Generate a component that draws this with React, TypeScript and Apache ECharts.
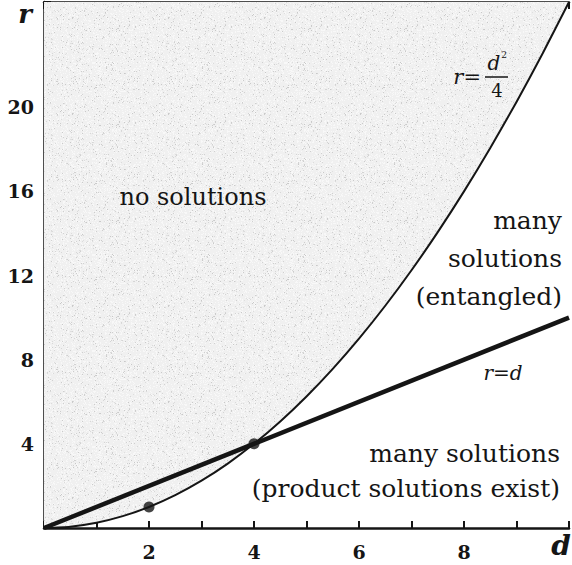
import React, { useEffect, useRef } from "react";
import * as echarts from "echarts";

// r = d^2 / 4 boundary (d, r)
const parabolaD = [0, 0.5, 1, 1.5, 2, 2.5, 3, 3.5, 4, 4.5, 5, 5.5, 6, 6.5, 7, 7.5, 8, 8.5, 9, 9.5, 10];
const parabolaR = [0, 0.0625, 0.25, 0.5625, 1, 1.5625, 2.25, 3.0625, 4, 5.0625, 6.25, 7.5625, 9, 10.5625, 12.25, 14.0625, 16, 18.0625, 20.25, 22.5625, 25];
// r = d line
const lineD = [0, 10];
const lineR = [0, 10];
// marked points
const dotD = [2, 4];
const dotR = [1, 4];
// tick labels
const xTickLabels = ["2", "4", "6", "8"];
const yTickLabels = ["4", "8", "12", "16", "20"];

const SERIF = "'DejaVu Serif', 'Liberation Serif', serif";
const INK = "#151515";

// Speckled light-grey tile for the shaded region (deterministic hash noise).
function makeGrainTile(): HTMLCanvasElement {
  const size = 96;
  const c = document.createElement("canvas");
  c.width = size;
  c.height = size;
  const ctx = c.getContext("2d")!;
  ctx.fillStyle = "#efefef";
  ctx.fillRect(0, 0, size, size);
  const img = ctx.getImageData(0, 0, size, size);
  for (let y = 0; y < size; y++) {
    for (let x = 0; x < size; x++) {
      let h = (x * 374761393 + y * 668265263) | 0;
      h = Math.imul(h ^ (h >>> 13), 1274126177);
      h ^= h >>> 16;
      const u = (h >>> 0) / 4294967295;
      let v = 240;
      if (u < 0.06) v = 200 + Math.floor(u * 400);
      else if (u > 0.8) v = 248;
      const i = (y * size + x) * 4;
      img.data[i] = v;
      img.data[i + 1] = v;
      img.data[i + 2] = v;
      img.data[i + 3] = 255;
    }
  }
  ctx.putImageData(img, 0, 0);
  return c;
}

export default function App() {
  const ref = useRef<HTMLDivElement>(null);

  useEffect(() => {
    if (!ref.current) return;
    const chart = echarts.init(ref.current, null, { renderer: "svg" });

    const xAxisBase = {
      type: "value" as const,
      min: 0,
      max: 10,
      interval: 1,
      splitLine: { show: false },
      axisLine: { show: true, onZero: false, lineStyle: { color: INK, width: 2.5 } },
      axisTick: { show: true, inside: true, length: 7, lineStyle: { color: INK, width: 2 } },
    };

    const textZ = { z: 100 };
    const regionFont = `25px ${SERIF}`;

    chart.setOption({
      animation: false,
      backgroundColor: "#ffffff",
      grid: { left: 44, right: -2, top: 2, bottom: 37 },
      xAxis: [
        {
          ...xAxisBase,
          position: "bottom",
          axisLabel: {
            margin: 14,
            fontFamily: SERIF,
            fontSize: 19,
            fontWeight: "bold",
            color: INK,
            formatter: (v: number) => (xTickLabels.includes(String(v)) ? String(v) : ""),
          },
        },
        {
          ...xAxisBase,
          position: "top",
          axisLabel: { show: false },
        },
      ],
      yAxis: {
        type: "value",
        min: 0,
        max: 25,
        interval: 4,
        splitLine: { show: false },
        axisLine: { show: true, onZero: false, lineStyle: { color: INK, width: 2.5 } },
        axisTick: { show: true, inside: true, length: 7, lineStyle: { color: INK, width: 2 } },
        axisLabel: {
          margin: 10,
          fontFamily: SERIF,
          fontSize: 19,
          fontWeight: "bold",
          color: INK,
          formatter: (v: number) => (yTickLabels.includes(String(v)) ? String(v) : ""),
        },
      },
      series: [
        {
          type: "line",
          xAxisIndex: 0,
          data: parabolaD.map((d, i) => [d, parabolaR[i]]),
          smooth: 0.2,
          symbol: "none",
          lineStyle: { color: INK, width: 2 },
          areaStyle: { origin: "end", color: { image: makeGrainTile(), repeat: "repeat" }, opacity: 1 },
          z: 2,
        },
        {
          type: "line",
          xAxisIndex: 0,
          data: lineD.map((d, i) => [d, lineR[i]]),
          symbol: "none",
          lineStyle: { color: INK, width: 4.5 },
          z: 3,
        },
        {
          type: "scatter",
          xAxisIndex: 0,
          data: dotD.map((d, i) => [d, dotR[i]]),
          symbolSize: 11,
          itemStyle: { color: INK },
          z: 4,
        },
      ],
      graphic: [
        // axis names
        { type: "text", ...textZ, x: 25, y: 1, style: { text: "r", font: `italic bold 26px ${SERIF}`, fill: INK, align: "center", verticalAlign: "top" } },
        { type: "text", ...textZ, x: 561, y: 545, style: { text: "d", font: `italic bold 28px ${SERIF}`, fill: INK, align: "center", verticalAlign: "middle" } },
        // region labels
        { type: "text", ...textZ, x: 193, y: 197, style: { text: "no solutions", font: `24px ${SERIF}`, fill: INK, align: "center", verticalAlign: "middle" } },
        { type: "text", ...textZ, x: 562, y: 220, style: { text: "many", font: regionFont, fill: INK, align: "right", verticalAlign: "middle" } },
        { type: "text", ...textZ, x: 562, y: 258, style: { text: "solutions", font: regionFont, fill: INK, align: "right", verticalAlign: "middle" } },
        { type: "text", ...textZ, x: 562, y: 296, style: { text: "(entangled)", font: regionFont, fill: INK, align: "right", verticalAlign: "middle" } },
        { type: "text", ...textZ, x: 560, y: 453, style: { text: "many solutions", font: regionFont, fill: INK, align: "right", verticalAlign: "middle" } },
        { type: "text", ...textZ, x: 560, y: 488, style: { text: "(product solutions exist)", font: regionFont, fill: INK, align: "right", verticalAlign: "middle" } },
        // curve labels
        { type: "text", ...textZ, x: 503, y: 373, style: { text: "r=d", font: `italic 20px ${SERIF}`, fill: INK, align: "center", verticalAlign: "middle" } },
        { type: "text", ...textZ, x: 481, y: 77, style: { text: "r=", font: `italic 21px ${SERIF}`, fill: INK, align: "right", verticalAlign: "middle" } },
        { type: "text", ...textZ, x: 494, y: 63, style: { text: "d", font: `italic 20px ${SERIF}`, fill: INK, align: "center", verticalAlign: "middle" } },
        { type: "text", ...textZ, x: 504, y: 55, style: { text: "2", font: `9px ${SERIF}`, fill: INK, align: "center", verticalAlign: "middle" } },
        { type: "line", ...textZ, shape: { x1: 485, y1: 77, x2: 508, y2: 77 }, style: { stroke: INK, lineWidth: 1.5 } },
        { type: "text", ...textZ, x: 497, y: 90, style: { text: "4", font: `18px ${SERIF}`, fill: INK, align: "center", verticalAlign: "middle" } },
      ],
    });

    return () => chart.dispose();
  }, []);

  return (
    <div
      ref={ref}
      style={{ position: "fixed", left: 0, top: 0, width: 572, height: 565, overflow: "hidden" }}
    />
  );
}
